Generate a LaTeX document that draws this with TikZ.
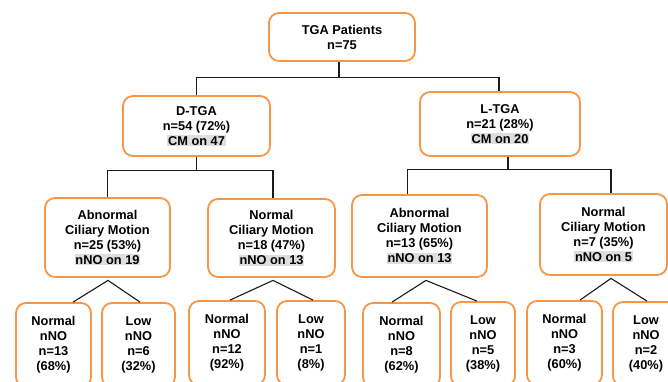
\documentclass[tikz,border=0pt]{standalone}
\usepackage{fontspec}
\setmainfont{Liberation Sans}
\usetikzlibrary{calc}
\definecolor{boxorange}{HTML}{F79646}
\definecolor{hlgray}{HTML}{DEDEDE}
\definecolor{linecol}{HTML}{1A1A1A}
\newcommand{\hl}[1]{{\setlength{\fboxsep}{0.8pt}\colorbox{hlgray}{#1}}}
\tikzset{
  tbox/.style={draw=boxorange, line width=1.8pt, rounded corners=10pt, fill=white,
    align=center, inner sep=0pt,
    font=\fontsize{12.8}{15}\selectfont\bfseries},
  conn/.style={draw=linecol, line width=1.1pt},
}
\begin{document}
\begin{tikzpicture}[x=1pt,y=1pt]
\useasboundingbox (0,0) rectangle (668,-382);
\clip (0,0) rectangle (668,-382);
% level 0
\node[tbox, minimum width=146, minimum height=48] (top) at (342,-37) {TGA Patients\\n=75};
% level 1
\node[tbox, minimum width=147, minimum height=60] (dtga) at (196.5,-126) {D-TGA\\n=54 (72\%)\\\hl{CM on 47}};
\node[tbox, minimum width=160, minimum height=64] (ltga) at (500,-124) {L-TGA\\n=21 (28\%)\\\hl{CM on 20}};
% level 2
\node[tbox, minimum width=125, minimum height=79] (dabn) at (107.5,-237.5) {Abnormal\\Ciliary Motion\\n=25 (53\%)\\\hl{nNO on 19}};
\node[tbox, minimum width=127, minimum height=78] (dnor) at (271.5,-238) {Normal\\Ciliary Motion\\n=18 (47\%)\\\hl{nNO on 13}};
\node[tbox, minimum width=135, minimum height=82] (labn) at (419.5,-236) {Abnormal\\Ciliary Motion\\n=13 (65\%)\\\hl{nNO on 13}};
\node[tbox, minimum width=127, minimum height=81] (lnor) at (603.5,-234.5) {Normal\\Ciliary Motion\\n=7 (35\%)\\\hl{nNO on 5}};
% level 3
\node[tbox, minimum width=75, minimum height=84] (b1) at (53.5,-345) {Normal\\nNO\\n=13\\(68\%)};
\node[tbox, minimum width=73, minimum height=84] (b2) at (138.5,-345) {Low\\nNO\\n=6\\(32\%)};
\node[tbox, minimum width=76, minimum height=84] (b3) at (227,-343) {Normal\\nNO\\n=12\\(92\%)};
\node[tbox, minimum width=68, minimum height=84] (b4) at (311,-343) {Low\\nNO\\n=1\\(8\%)};
\node[tbox, minimum width=77, minimum height=84] (b5) at (401.5,-345) {Normal\\nNO\\n=8\\(62\%)};
\node[tbox, minimum width=64, minimum height=84] (b6) at (483,-344) {Low\\nNO\\n=5\\(38\%)};
\node[tbox, minimum width=75, minimum height=84] (b7) at (564.5,-343) {Normal\\nNO\\n=3\\(60\%)};
\node[tbox, minimum width=66, minimum height=84] (b8) at (646,-344) {Low\\nNO\\n=2\\(40\%)};
% connectors level 0 -> 1
\coordinate (j0) at ($(top.south)+(-3,-16)$);
\draw[conn] ($(top.south)+(-3,0)$) -- (j0);
\draw[conn] (dtga.north) |- (j0) -| ($(ltga.north)+(-1,0)$);
% level 1 -> 2 (D)
\coordinate (j1) at ($(dtga.south)+(0,-13.5)$);
\draw[conn] (dtga.south) -- (j1);
\draw[conn] (dabn.north) |- (j1) -| ($(dnor.north)+(1.5,0)$);
% level 1 -> 2 (L)
\coordinate (j2) at ($(ltga.south)+(8,-13)$);
\draw[conn] ($(ltga.south)+(8,0)$) -- (j2);
\draw[conn] ($(labn.north)+(-12,0)$) |- (j2) -| ($(lnor.north)+(7.5,0)$);
% level 2 -> 3
\coordinate (a1) at ($(dabn.south)+(0.5,-2.5)$);
\draw[conn] ($(b1.north)+(19.5,0)$) -- (a1) -- ($(b2.north)+(1.5,0)$);
\coordinate (a2) at ($(dnor.south)+(1.5,-2.5)$);
\draw[conn] ($(b3.north)+(3,0)$) -- (a2) -- ($(b4.north)+(2,0)$);
\coordinate (a3) at ($(labn.south)+(6.5,-2.5)$);
\draw[conn] ($(b5.north)+(-9.5,0)$) -- (a3) -- ($(b6.north)+(-6,0)$);
\coordinate (a4) at ($(lnor.south)+(7.5,-2.5)$);
\draw[conn] ($(b7.north)+(15.5,0)$) -- (a4) -- ($(b8.north)+(1,0)$);
\end{tikzpicture}
\end{document}
